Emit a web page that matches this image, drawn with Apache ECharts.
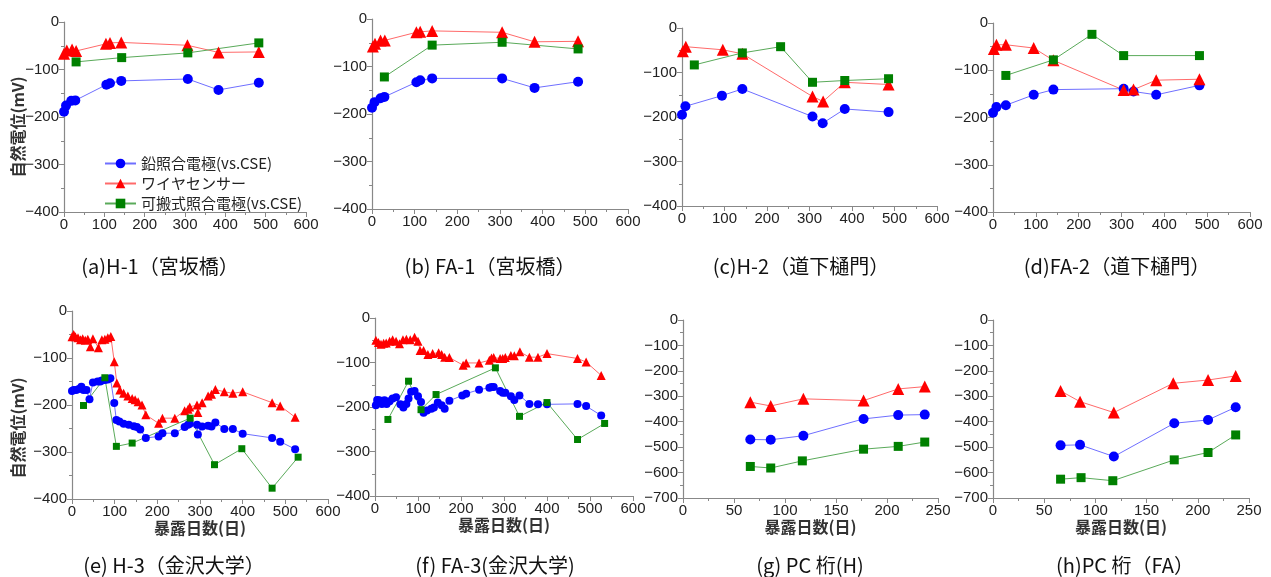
<!DOCTYPE html>
<html><head><meta charset="utf-8">
<script src="https://cdn.jsdelivr.net/npm/echarts@6/dist/echarts.min.js"></script>
<style>html,body{margin:0;padding:0;background:#fff}#c{width:1271px;height:577px}</style>
</head><body><div id="c"></div>
<script>
const seriesNames = ['鉛照合電極(vs.CSE)', 'ワイヤセンサー', '可搬式照合電極(vs.CSE)'];
const captions = ['(a)H-1（宮坂橋）', '(b) FA-1（宮坂橋）', '(c)H-2（道下樋門）', '(d)FA-2（道下樋門）',
  '(e) H-3（金沢大学）', '(f) FA-3(金沢大学)', '(g) PC 桁(H)', '(h)PC 桁（FA）'];
const yName = '自然電位(mV)';
const xName = '暴露日数(日)';
const xTicksLong = [0, 600, 100];
const xTicksShort = [0, 250, 50];
const yTicksLong = [-400, 0, 100];
const yTicksPC = [-700, 0, 100];

// (a) H-1
const aLead = [[0,-189],[5,-176],[18,-166],[28,-165],[105,-132],[114,-129],[142,-124],[307,-120],[383,-143],[483,-128]];
const aWire = [[0,-67],[7,-60],[20,-58],[30,-61],[104,-46],[114,-44],[142,-43],[306,-49],[383,-64],[483,-63]];
const aPort = [[30,-84],[143,-75],[307,-65],[483,-44]];
// (b) FA-1
const bLead = [[0,-187],[6,-175],[20,-167],[29,-164],[104,-133],[113,-129],[141,-125],[305,-125],[381,-145],[483,-132]];
const bWire = [[2,-58],[7,-52],[20,-45],[30,-45],[104,-28],[113,-27],[141,-25],[305,-28],[381,-48],[483,-47]];
const bPort = [[29,-122],[141,-55],[305,-49],[483,-63]];
// (c) H-2
const cLead = [[0,-195],[8,-176],[94,-152],[142,-137],[307,-199],[331,-214],[383,-182],[486,-189]];
const cWire = [[2,-52],[9,-42],[96,-49],[142,-58],[307,-154],[332,-165],[383,-122],[486,-127]];
const cPort = [[29,-83],[142,-56],[232,-42],[307,-122],[383,-118],[486,-114]];
// (d) FA-2
const dLead = [[0,-190],[8,-178],[30,-174],[95,-152],[141,-141],[305,-139],[328,-145],[381,-152],[482,-132]];
const dWire = [[2,-55],[8,-46],[30,-46],[95,-53],[141,-79],[305,-142],[328,-141],[381,-121],[482,-119]];
const dPort = [[30,-111],[141,-78],[231,-24],[305,-69],[482,-69]];
// (e) H-3
const eLead = [[0,-170],[4,-168],[10,-168],[16,-166],[22,-161],[27,-168],[34,-168],[41,-188],[49,-152],[60,-150],[66,-150],[70,-148],[77,-147],[84,-146],[90,-143],[99,-196],[104,-232],[111,-235],[121,-240],[133,-242],[145,-245],[152,-247],[160,-252],[173,-270],[203,-267],[212,-260],[241,-260],[264,-247],[272,-242],[276,-240],[293,-242],[295,-263],[305,-246],[319,-244],[327,-246],[336,-237],[357,-251],[377,-251],[400,-261],[469,-270],[488,-278],[523,-294]];
const eWire = [[0,-55],[4,-50],[8,-55],[14,-57],[20,-61],[25,-59],[31,-62],[37,-60],[43,-76],[49,-59],[62,-78],[70,-61],[77,-60],[84,-57],[91,-54],[99,-108],[105,-153],[112,-168],[121,-175],[131,-181],[141,-186],[148,-189],[155,-193],[164,-200],[173,-221],[203,-239],[212,-228],[241,-228],[264,-212],[272,-209],[276,-204],[293,-200],[295,-216],[305,-195],[319,-181],[327,-177],[336,-167],[357,-172],[377,-175],[400,-172],[469,-195],[488,-202],[523,-226]];
const ePort = [[27,-201],[77,-142],[104,-288],[141,-281],[277,-228],[334,-327],[398,-293],[469,-377],[530,-311]];
// (f) FA-3
const fLead = [[2,-196],[5,-184],[10,-185],[16,-193],[22,-185],[27,-193],[34,-187],[41,-181],[49,-178],[59,-194],[66,-201],[73,-193],[78,-181],[84,-166],[92,-164],[100,-176],[107,-189],[113,-213],[121,-208],[131,-204],[137,-201],[146,-190],[155,-196],[162,-204],[173,-186],[203,-174],[212,-170],[242,-161],[266,-157],[271,-155],[276,-155],[291,-164],[297,-168],[303,-168],[316,-176],[324,-184],[336,-174],[359,-193],[379,-194],[400,-194],[471,-193],[491,-198],[526,-219]];
const fWire = [[2,-50],[8,-55],[14,-59],[20,-57],[26,-56],[34,-52],[41,-49],[49,-52],[57,-58],[65,-49],[73,-48],[82,-49],[92,-43],[100,-52],[105,-73],[113,-73],[123,-82],[134,-80],[148,-78],[155,-82],[162,-88],[173,-89],[205,-106],[212,-101],[242,-101],[266,-95],[271,-90],[276,-89],[291,-91],[297,-91],[303,-89],[316,-84],[324,-85],[337,-76],[359,-88],[379,-88],[400,-80],[471,-91],[491,-99],[526,-129]];
const fPort = [[30,-228],[78,-142],[107,-206],[142,-172],[280,-112],[336,-221],[400,-190],[471,-273],[534,-237]];
// (g) PC H
const gLead = [[66,-470],[86,-471],[118,-455],[177,-389],[211,-374],[237,-372]];
const gWire = [[66,-323],[86,-338],[118,-310],[177,-317],[211,-271],[237,-262]];
const gPort = [[66,-576],[86,-582],[117,-554],[177,-508],[211,-497],[237,-480]];
// (h) PC FA
const hLead = [[66,-493],[85,-491],[118,-537],[177,-406],[210,-393],[237,-343]];
const hWire = [[66,-279],[85,-321],[118,-364],[176,-249],[210,-236],[237,-220]];
const hPort = [[66,-626],[86,-620],[117,-632],[177,-550],[210,-521],[237,-452]];

const panelData = [
  [aLead,aWire,aPort],[bLead,bWire,bPort],[cLead,cWire,cPort],[dLead,dWire,dPort],
  [eLead,eWire,ePort],[fLead,fWire,fPort],[gLead,gWire,gPort],[hLead,hWire,hPort]
];

// layout (pixels)
const grids = [
  {left:64, top:22, width:242, height:190},
  {left:372, top:19, width:256, height:190},
  {left:682, top:28, width:255, height:178},
  {left:993, top:23, width:257, height:189},
  {left:72, top:311, width:256, height:188},
  {left:375, top:318, width:258, height:178},
  {left:683, top:320, width:255, height:178},
  {left:993, top:320, width:256, height:178}
];
const captionPos = [[160,266],[490,266],[801,266],[1117,266],[174,565],[495,565],[810,565],[1125,565]];

const markerColors = ['#0000ff','#ff0000','#008000'];
const lineColors = ['#6f6fff','#ff6a6a','#5aaa5a'];
const symbols = ['circle','triangle','rect'];
const bigSizes = [10,12,9];
const smallSizes = [8,9,7];

const minus = v => String(v).replace('-', '\u2212');
const axisCommon = {
  axisLine:{onZero:false, lineStyle:{color:'#888', width:1.2}},
  axisTick:{show:true, inside:false, length:5, lineStyle:{color:'#888'}},
  minorTick:{show:true, splitNumber:2, length:3, lineStyle:{color:'#888'}},
  splitLine:{show:false},
  axisLabel:{color:'#222', fontSize:15, fontFamily:'Liberation Sans, Arial, sans-serif', formatter:minus, margin:5}
};

const option = {
  animation:false,
  backgroundColor:'#fff',
  grid: grids.map(g => Object.assign({containLabel:false}, g)),
  xAxis: grids.map((g,i) => {
    const t = i >= 6 ? xTicksShort : xTicksLong;
    const ax = Object.assign({}, axisCommon, {type:'value', gridIndex:i, min:t[0], max:t[1], interval:t[2]});
    if (i >= 4) {
      ax.name = xName; ax.nameLocation = 'middle'; ax.nameGap = 21;
      ax.nameTextStyle = {fontSize:16, fontWeight:'bold', color:'#333', fontFamily:'Noto Sans CJK JP', verticalAlign:'top'};
    }
    return ax;
  }),
  yAxis: grids.map((g,i) => {
    const t = i >= 6 ? yTicksPC : yTicksLong;
    return Object.assign({}, axisCommon, {type:'value', gridIndex:i, min:t[0], max:t[1], interval:t[2]});
  }),
  legend: {
    data: seriesNames, orient:'vertical', left:99, top:151, itemWidth:31, itemHeight:12, itemGap:5,
    textStyle:{fontSize:15, color:'#222', fontFamily:'Noto Sans CJK JP'}, selectedMode:false
  },
  graphic: [
    {type:'text', x:18, y:127, rotation:Math.PI/2, style:{text:yName, font:'bold 16px "Noto Sans CJK JP"', fill:'#333', align:'center', verticalAlign:'middle'}},
    {type:'text', x:18, y:428, rotation:Math.PI/2, style:{text:yName, font:'bold 16px "Noto Sans CJK JP"', fill:'#333', align:'center', verticalAlign:'middle'}}
  ].concat(captions.map((c,i) => ({type:'text', x:captionPos[i][0], y:captionPos[i][1],
    style:{text:c, font:'20px "Noto Sans CJK JP"', fill:'#111', align:'center', verticalAlign:'middle'}}))),
  series: []
};

panelData.forEach((arrs, i) => {
  const sizes = (i === 4 || i === 5) ? smallSizes : bigSizes;
  arrs.forEach((d, k) => {
    option.series.push({
      type:'line', name:seriesNames[k], xAxisIndex:i, yAxisIndex:i, data:d,
      symbol:symbols[k], symbolSize:sizes[k], showAllSymbol:true,
      lineStyle:{color:lineColors[k], width:1},
      itemStyle:{color:markerColors[k]}
    });
  });
});

const chart = echarts.init(document.getElementById('c'), null, {renderer:'canvas'});
chart.setOption(option);
</script></body></html>
